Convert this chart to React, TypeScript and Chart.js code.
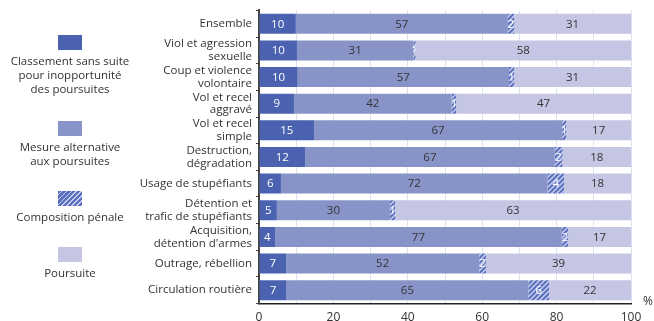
import React, { useEffect, useRef } from "react";
import { Chart, registerables } from "chart.js";

Chart.register(...registerables);

const categories: string[][] = [
  ["Ensemble"],
  ["Viol et agression", "sexuelle"],
  ["Coup et violence", "volontaire"],
  ["Vol et recel", "aggravé"],
  ["Vol et recel", "simple"],
  ["Destruction,", "dégradation"],
  ["Usage de stupéfiants"],
  ["Détention et", "trafic de stupéfiants"],
  ["Acquisition,", "détention d'armes"],
  ["Outrage, rébellion"],
  ["Circulation routière"],
];

const classement = [9.9, 10.2, 10.4, 9.4, 14.8, 12.4, 5.9, 4.8, 4.3, 7.3, 7.4];
const mesure = [57.0, 31.3, 56.8, 42.4, 66.7, 67.1, 71.7, 30.4, 77.1, 51.9, 65.0];
const composition = [1.7, 0.6, 1.4, 1.2, 1.1, 2.1, 4.4, 1.4, 1.7, 1.8, 5.6];
const poursuite = [31.4, 57.9, 31.4, 47.0, 17.4, 18.4, 18.0, 63.4, 16.9, 39.0, 22.0];

const seriesNames = [
  ["Classement sans suite", "pour inopportunité", "des poursuites"],
  ["Mesure alternative", "aux poursuites"],
  ["Composition pénale"],
  ["Poursuite"],
];

const xTicks = [0, 20, 40, 60, 80, 100];

const FONT = "'Open Sans', sans-serif";
const C_CLASS = "#4a62b0";
const C_MES = "#8894c8";
const C_COMP = "#5a70bf";
const C_COMP_LINE = "#c8cff0";
const C_POUR = "#c4c6e4";
const TEXT = "#333333";

function makeHatch(): CanvasPattern | string {
  const s = 5;
  const c = document.createElement("canvas");
  c.width = s;
  c.height = s;
  const ctx = c.getContext("2d");
  if (!ctx) return C_COMP;
  ctx.fillStyle = C_COMP;
  ctx.fillRect(0, 0, s, s);
  ctx.strokeStyle = C_COMP_LINE;
  ctx.lineWidth = 1.5;
  ctx.beginPath();
  ctx.moveTo(-1, s + 1);
  ctx.lineTo(s + 1, -1);
  ctx.moveTo(-2, 2);
  ctx.lineTo(2, -2);
  ctx.moveTo(s - 2, s + 2);
  ctx.lineTo(s + 2, s - 2);
  ctx.stroke();
  const p = ctx.createPattern(c, "repeat");
  return p || C_COMP;
}

const labelColors = ["#ffffff", TEXT, "#ffffff", TEXT];

const valueLabels = {
  id: "valueLabels",
  afterDatasetsDraw(chart: any) {
    const ctx = chart.ctx;
    ctx.save();
    ctx.font = `11.5px ${FONT}`;
    ctx.textAlign = "center";
    ctx.textBaseline = "middle";
    chart.data.datasets.forEach((ds: any, di: number) => {
      const meta = chart.getDatasetMeta(di);
      meta.data.forEach((bar: any, i: number) => {
        const v = ds.data[i];
        const cx = (bar.x + bar.base) / 2;
        ctx.fillStyle = labelColors[di];
        ctx.fillText(String(Math.round(v)), cx, bar.y + 0.5);
      });
    });
    // percent sign
    const a = chart.chartArea;
    ctx.fillStyle = TEXT;
    ctx.font = `12px ${FONT}`;
    ctx.textAlign = "left";
    ctx.fillText("%", a.right + 12, a.bottom - 2);
    ctx.restore();
  },
};

function LegendBox({ bg }: { bg: string }) {
  return (
    <div
      style={{
        width: 24,
        height: 15,
        margin: "0 auto",
        background: bg,
      }}
    />
  );
}

export default function App() {
  const ref = useRef<HTMLCanvasElement>(null);

  useEffect(() => {
    if (!ref.current) return;
    const hatch = makeHatch();
    const chart = new Chart(ref.current, {
      type: "bar",
      data: {
        labels: categories,
        datasets: [
          { label: seriesNames[0].join(" "), data: classement, backgroundColor: C_CLASS },
          { label: seriesNames[1].join(" "), data: mesure, backgroundColor: C_MES },
          { label: seriesNames[2].join(" "), data: composition, backgroundColor: hatch as any },
          { label: seriesNames[3].join(" "), data: poursuite, backgroundColor: C_POUR },
        ],
      },
      options: {
        indexAxis: "y",
        responsive: false,
        animation: false,
        layout: { padding: { top: 10, right: 23, left: 0, bottom: 0 } },
        datasets: {
          bar: { categoryPercentage: 0.75, barPercentage: 1, borderWidth: 0 },
        },
        plugins: {
          legend: { display: false },
          tooltip: { enabled: false },
        },
        scales: {
          x: {
            stacked: true,
            min: 0,
            max: 100,
            afterFit: (s: any) => {
              s.height = 17.5;
            },
            grid: { color: "#dfe1f0", lineWidth: 1, drawTicks: false },
            border: { display: true, color: "#222222", width: 1.5 },
            ticks: {
              stepSize: 10,
              padding: 7,
              autoSkip: false,
              maxRotation: 0,
              color: TEXT,
              font: { family: FONT, size: 12 },
              callback: (v: any) => (xTicks.includes(Number(v)) ? String(v) : ""),
            },
          },
          y: {
            stacked: true,
            afterFit: (s: any) => {
              s.width = 259;
            },
            grid: {
              drawOnChartArea: false,
              drawTicks: true,
              tickLength: 3,
              color: "#444444",
              lineWidth: 1,
            },
            border: { display: true, color: "#444444", width: 2 },
            ticks: {
              padding: 4,
              autoSkip: false,
              color: TEXT,
              font: { family: FONT, size: 11.5, lineHeight: 1.12 },
            },
          },
        },
      },
      plugins: [valueLabels],
    });
    return () => chart.destroy();
  }, []);

  const hatchCss = `repeating-linear-gradient(135deg, ${C_COMP} 0px, ${C_COMP} 2.2px, ${C_COMP_LINE} 2.2px, ${C_COMP_LINE} 3.5px)`;
  const legendItems = [
    { bg: C_CLASS, top: 35, lines: seriesNames[0] },
    { bg: C_MES, top: 121, lines: seriesNames[1] },
    { bg: hatchCss, top: 191, lines: seriesNames[2] },
    { bg: C_POUR, top: 247, lines: seriesNames[3] },
  ];

  return (
    <div
      style={{
        position: "fixed",
        left: 0,
        top: 0,
        width: 654,
        height: 321,
        background: "#ffffff",
        fontFamily: FONT,
      }}
    >
      <canvas ref={ref} width={654} height={321} style={{ position: "absolute", left: 0, top: 0 }} />
      {legendItems.map((it, i) => (
        <div
          key={i}
          style={{
            position: "absolute",
            left: 0,
            top: it.top,
            width: 140,
            textAlign: "center",
            fontSize: 11.5,
            lineHeight: "14px",
            color: TEXT,
          }}
        >
          <LegendBox bg={it.bg} />
          <div style={{ marginTop: 4 }}>
            {it.lines.map((l, j) => (
              <div key={j}>{l}</div>
            ))}
          </div>
        </div>
      ))}
    </div>
  );
}
